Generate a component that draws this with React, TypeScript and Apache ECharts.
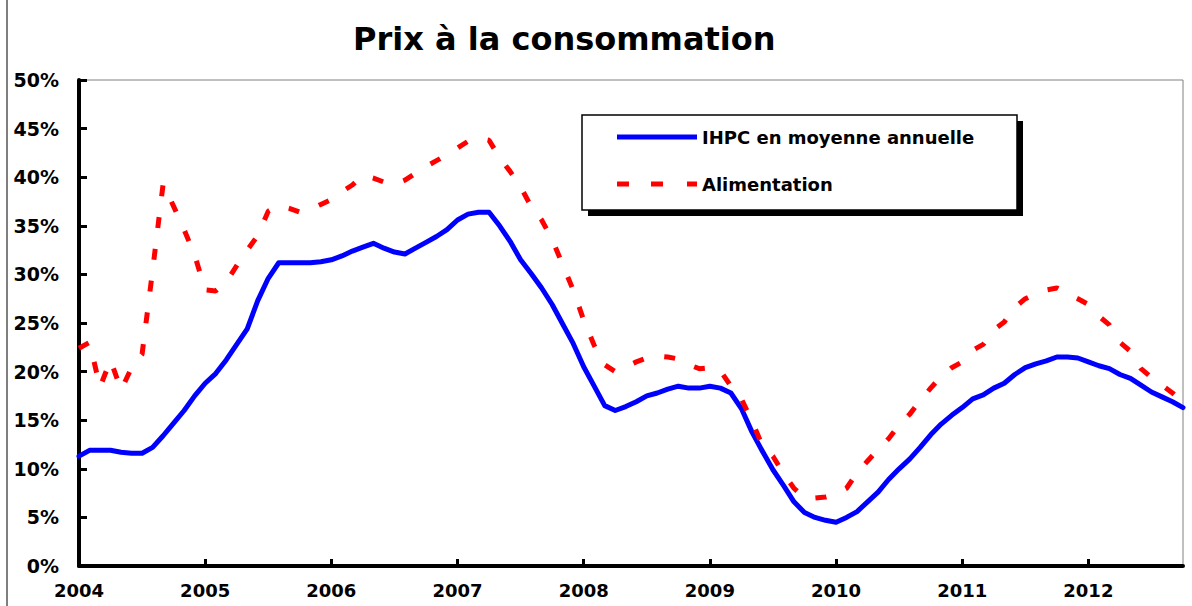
import React, { useEffect, useRef } from "react";
import * as echarts from "echarts";

const startYear = 2004;
const monthCount = 106;
const months: string[] = [];
for (let i = 0; i < monthCount; i++) {
  const y = startYear + Math.floor(i / 12);
  const m = (i % 12) + 1;
  months.push(`${y}-${m < 10 ? "0" + m : m}`);
}

const ihpc = [
  11.3, 11.9, 11.9, 11.9, 11.7, 11.6, 11.6, 12.2, 13.4, 14.7, 16.0, 17.5,
  18.8, 19.8, 21.2, 22.8, 24.4, 27.3, 29.6, 31.2, 31.2, 31.2, 31.2, 31.3,
  31.5, 31.9, 32.4, 32.8, 33.2, 32.7, 32.3, 32.1, 32.7, 33.3, 33.9, 34.6,
  35.6, 36.2, 36.4, 36.4, 35.0, 33.4, 31.5, 30.1, 28.6, 26.9, 24.9, 22.9,
  20.5, 18.5, 16.5, 16.0, 16.4, 16.9, 17.5, 17.8, 18.2, 18.5, 18.3, 18.3,
  18.5, 18.3, 17.8, 16.2, 13.8, 11.8, 9.9, 8.3, 6.6, 5.5, 5.0, 4.7,
  4.5, 5.0, 5.6, 6.6, 7.6, 8.9, 10.0, 11.0, 12.2, 13.5, 14.6, 15.5,
  16.3, 17.2, 17.6, 18.3, 18.8, 19.7, 20.4, 20.8, 21.1, 21.5, 21.5, 21.4,
  21.0, 20.6, 20.3, 19.7, 19.3, 18.6, 17.9, 17.4, 16.9, 16.3,
];

const alimentation = [
  22.4, 23.0, 18.4, 21.2, 18.1, 20.4, 21.8, 30.4, 39.3, 37.0, 34.6, 32.0,
  28.4, 28.3, 29.2, 30.9, 32.5, 34.0, 36.5, 37.1, 36.8, 36.4, 36.7, 37.2,
  37.7, 38.5, 39.2, 40.2, 39.9, 39.5, 39.3, 39.7, 40.4, 41.1, 41.7, 42.3,
  43.0, 43.7, 44.0, 43.8, 42.0, 40.6, 39.0, 37.0, 35.6, 33.6, 31.0, 28.4,
  25.3, 22.7, 20.7, 20.0, 20.5, 21.0, 21.4, 21.6, 21.5, 21.3, 20.7, 20.3,
  20.4, 20.1, 18.5, 17.2, 14.9, 12.4, 11.3, 9.5, 8.0, 7.0, 7.0, 7.1,
  7.4, 8.0, 9.6, 10.8, 12.0, 13.1, 14.5, 15.6, 17.0, 18.3, 19.5, 20.4,
  21.0, 22.2, 22.8, 24.3, 25.1, 26.6, 27.5, 28.0, 28.4, 28.6, 28.0, 27.5,
  26.9, 25.7, 24.8, 23.0, 22.1, 20.3, 19.4, 18.6, 17.8, 16.9,
];

const seriesNames = ["IHPC en moyenne annuelle", "Alimentation"];
const titleText = "Prix à la consommation";

const FONT = "'DejaVu Sans', 'Liberation Sans', Arial, sans-serif";

export default function App() {
  const ref = useRef<HTMLDivElement>(null);
  useEffect(() => {
    if (!ref.current) return;
    const chart = echarts.init(ref.current, null, { renderer: "svg" });
    chart.setOption({
      animation: false,
      backgroundColor: "#ffffff",
      title: {
        text: titleText,
        left: 348,
        top: 18,
        textStyle: { fontFamily: FONT, fontWeight: "bold", fontSize: 32, color: "#000" },
      },
      grid: {
        left: 79,
        right: 9,
        top: 80,
        bottom: 40,
        show: true,
        borderColor: "#808080",
        borderWidth: 1,
        backgroundColor: "transparent",
      },
      graphic: [
        { type: "line", z: 1, shape: { x1: 7, y1: 0, x2: 7, y2: 606 }, style: { stroke: "#000", lineWidth: 1 } },
        { type: "rect", z: 1, shape: { x: 588, y: 121, width: 435, height: 95 }, style: { fill: "#000" } },
        { type: "rect", z: 2, shape: { x: 582, y: 115, width: 435, height: 95 }, style: { fill: "#fff", stroke: "#000", lineWidth: 1.5 } },
      ],
      legend: {
        orient: "vertical",
        left: 612,
        top: 123,
        itemWidth: 80,
        itemHeight: 5,
        itemGap: 29,
        z: 10,
        data: [
          { name: seriesNames[0], icon: "path://M0,0h80v5h-80z", itemStyle: { color: "#0000ff" } },
          {
            name: seriesNames[1],
            icon: "path://M0,0h12v5h-12z M34,0h12v5h-12z M70,0h10v5h-10z",
            itemStyle: { color: "#ff0000" },
          },
        ],
        textStyle: { fontFamily: FONT, fontWeight: "bold", fontSize: 18, lineHeight: 18, color: "#000" },
      },
      xAxis: {
        type: "category",
        boundaryGap: false,
        data: months,
        axisLine: { show: true, lineStyle: { color: "#000", width: 4 } },
        axisTick: {
          show: true,
          inside: true,
          length: 7,
          interval: (i: number) => i % 12 === 0,
          lineStyle: { color: "#000", width: 3 },
        },
        axisLabel: {
          interval: (i: number) => i % 12 === 0,
          formatter: (v: string) => v.slice(0, 4),
          margin: 15,
          fontFamily: FONT,
          fontWeight: "bold",
          fontSize: 18,
          color: "#000",
        },
        splitLine: { show: false },
      },
      yAxis: {
        type: "value",
        min: 0,
        max: 50,
        interval: 5,
        axisLine: { show: true, lineStyle: { color: "#000", width: 4 } },
        axisTick: { show: true, inside: true, length: 8, lineStyle: { color: "#000", width: 3 } },
        axisLabel: {
          formatter: "{value}%",
          margin: 20,
          fontFamily: FONT,
          fontWeight: "bold",
          fontSize: 19,
          color: "#000",
        },
        splitLine: { show: false },
      },
      series: [
        {
          name: seriesNames[0],
          type: "line",
          data: ihpc,
          symbol: "none",
          z: 3,
          lineStyle: { color: "#0000ff", width: 5, cap: "round", join: "round" },
          itemStyle: { color: "#0000ff" },
        },
        {
          name: seriesNames[1],
          type: "line",
          data: alimentation,
          symbol: "none",
          z: 4,
          lineStyle: { color: "#ff0000", width: 5, type: [11, 21], cap: "butt" },
          itemStyle: { color: "#ff0000" },
        },
      ],
    });
    return () => chart.dispose();
  }, []);
  return (
    <div
      ref={ref}
      style={{ position: "fixed", left: 0, top: 0, width: 1192, height: 606, background: "#fff" }}
    />
  );
}
